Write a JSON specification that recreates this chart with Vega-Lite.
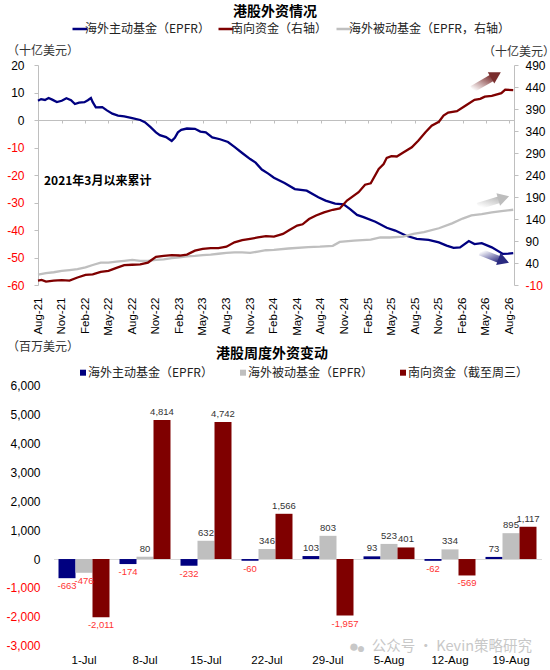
{"$schema":"https://vega.github.io/schema/vega-lite/v6.json","padding":{"left":5,"top":5,"right":0,"bottom":0},"background":"white","bounds":"flush","spacing":100.7,"resolve":{"scale":{"color":"independent"},"legend":{"color":"independent"}},"config":{"view":{"stroke":null},"font":"Liberation Sans","title":{"font":"Noto Sans CJK SC","fontWeight":"bold","fontSize":14,"color":"#000"},"legend":{"labelFont":"Noto Sans CJK SC","labelFontSize":12,"labelColor":"#222","padding":0,"labelLimit":300}},
"datasets":{
"blue":[{"d":"2021-08-01","v":7.0},{"d":"2021-08-13","v":7.6},{"d":"2021-08-28","v":7.3},{"d":"2021-09-11","v":8.0},{"d":"2021-09-25","v":7.4},{"d":"2021-10-13","v":6.5},{"d":"2021-11-01","v":7.0},{"d":"2021-11-19","v":7.9},{"d":"2021-12-07","v":7.2},{"d":"2021-12-22","v":5.8},{"d":"2022-01-07","v":6.3},{"d":"2022-01-28","v":6.5},{"d":"2022-02-10","v":7.2},{"d":"2022-02-22","v":8.0},{"d":"2022-03-01","v":6.5},{"d":"2022-03-13","v":4.6},{"d":"2022-04-07","v":4.7},{"d":"2022-04-25","v":3.5},{"d":"2022-05-16","v":2.3},{"d":"2022-06-07","v":1.6},{"d":"2022-07-01","v":1.3},{"d":"2022-08-01","v":0.7},{"d":"2022-09-01","v":0},{"d":"2022-09-19","v":-0.8},{"d":"2022-10-10","v":-2.5},{"d":"2022-11-01","v":-4.5},{"d":"2022-11-16","v":-5.5},{"d":"2022-12-10","v":-6.2},{"d":"2023-01-01","v":-7.6},{"d":"2023-01-13","v":-6.5},{"d":"2023-01-25","v":-4.5},{"d":"2023-02-07","v":-3.6},{"d":"2023-03-01","v":-3.1},{"d":"2023-04-01","v":-3.2},{"d":"2023-04-22","v":-4.2},{"d":"2023-05-13","v":-4.5},{"d":"2023-06-07","v":-6.3},{"d":"2023-07-07","v":-7},{"d":"2023-08-07","v":-8},{"d":"2023-09-01","v":-9.8},{"d":"2023-10-01","v":-12},{"d":"2023-11-01","v":-14.2},{"d":"2023-11-22","v":-15.5},{"d":"2023-12-16","v":-18},{"d":"2024-01-10","v":-19.5},{"d":"2024-02-01","v":-21},{"d":"2024-03-13","v":-22.9},{"d":"2024-04-22","v":-25.1},{"d":"2024-06-07","v":-25.7},{"d":"2024-07-22","v":-28.1},{"d":"2024-08-19","v":-29.3},{"d":"2024-09-25","v":-30.4},{"d":"2024-10-28","v":-30.7},{"d":"2024-11-22","v":-32.4},{"d":"2024-12-19","v":-34.5},{"d":"2025-01-13","v":-35.3},{"d":"2025-02-28","v":-37},{"d":"2025-04-13","v":-39.2},{"d":"2025-05-16","v":-40.2},{"d":"2025-06-28","v":-42.1},{"d":"2025-08-07","v":-43.2},{"d":"2025-09-22","v":-43.6},{"d":"2025-11-01","v":-44.5},{"d":"2025-12-01","v":-45.7},{"d":"2025-12-28","v":-46.5},{"d":"2026-01-22","v":-46.3},{"d":"2026-02-25","v":-44},{"d":"2026-03-19","v":-45.1},{"d":"2026-04-16","v":-44.8},{"d":"2026-05-25","v":-46.3},{"d":"2026-07-07","v":-48.7},{"d":"2026-07-28","v":-48.6},{"d":"2026-08-16","v":-48.4}],
"red":[{"d":"2021-08-01","v":0},{"d":"2021-08-15","v":1.4},{"d":"2021-09-01","v":-2.4},{"d":"2021-10-01","v":0},{"d":"2021-11-01","v":1},{"d":"2021-12-01","v":0},{"d":"2022-01-01","v":7},{"d":"2022-02-01","v":13},{"d":"2022-03-01","v":14},{"d":"2022-04-01","v":20},{"d":"2022-05-01","v":22},{"d":"2022-06-01","v":29},{"d":"2022-07-01","v":35},{"d":"2022-08-01","v":36},{"d":"2022-09-01","v":37},{"d":"2022-10-01","v":41},{"d":"2022-11-01","v":54},{"d":"2022-12-01","v":56},{"d":"2023-01-01","v":58},{"d":"2023-02-01","v":57},{"d":"2023-03-01","v":59},{"d":"2023-04-01","v":68},{"d":"2023-05-01","v":72},{"d":"2023-06-01","v":74},{"d":"2023-07-01","v":74},{"d":"2023-08-01","v":77},{"d":"2023-09-01","v":87},{"d":"2023-10-01","v":92},{"d":"2023-11-01","v":95},{"d":"2023-12-01","v":98},{"d":"2024-01-01","v":101},{"d":"2024-02-01","v":100},{"d":"2024-03-07","v":106},{"d":"2024-04-01","v":115},{"d":"2024-05-01","v":125},{"d":"2024-05-22","v":128},{"d":"2024-06-16","v":140},{"d":"2024-07-13","v":148},{"d":"2024-08-13","v":155},{"d":"2024-09-16","v":161},{"d":"2024-10-13","v":164},{"d":"2024-11-10","v":182},{"d":"2024-12-25","v":201},{"d":"2025-01-19","v":218},{"d":"2025-02-10","v":221},{"d":"2025-03-13","v":254},{"d":"2025-04-01","v":265},{"d":"2025-04-13","v":279},{"d":"2025-05-01","v":283},{"d":"2025-05-22","v":282},{"d":"2025-06-16","v":291},{"d":"2025-07-19","v":303},{"d":"2025-08-13","v":318},{"d":"2025-09-10","v":337},{"d":"2025-10-04","v":352},{"d":"2025-11-01","v":361},{"d":"2025-11-19","v":375},{"d":"2025-12-07","v":382},{"d":"2026-01-10","v":385},{"d":"2026-02-13","v":398},{"d":"2026-03-19","v":411},{"d":"2026-04-10","v":413},{"d":"2026-04-28","v":418},{"d":"2026-05-25","v":420},{"d":"2026-07-01","v":426},{"d":"2026-07-16","v":434},{"d":"2026-08-16","v":433}],
"grey":[{"d":"2021-08-01","v":13.5},{"d":"2021-09-01","v":17},{"d":"2021-10-01","v":19},{"d":"2021-11-01","v":22},{"d":"2021-12-01","v":24},{"d":"2022-01-01","v":26},{"d":"2022-02-01","v":30},{"d":"2022-03-01","v":35.5},{"d":"2022-04-01","v":41},{"d":"2022-05-01","v":41},{"d":"2022-06-01","v":43},{"d":"2022-07-01","v":45},{"d":"2022-08-01","v":47},{"d":"2022-09-01","v":45},{"d":"2022-10-01","v":45},{"d":"2022-11-01","v":47},{"d":"2022-12-01","v":48},{"d":"2023-01-01","v":51},{"d":"2023-02-01","v":53},{"d":"2023-03-01","v":55},{"d":"2023-04-01","v":56},{"d":"2023-05-01","v":58},{"d":"2023-06-01","v":59},{"d":"2023-07-01","v":61},{"d":"2023-08-01","v":63},{"d":"2023-09-01","v":64},{"d":"2023-10-01","v":64},{"d":"2023-11-01","v":63},{"d":"2023-12-01","v":66},{"d":"2024-01-01","v":69},{"d":"2024-02-01","v":70},{"d":"2024-03-28","v":73},{"d":"2024-06-13","v":76},{"d":"2024-07-28","v":77},{"d":"2024-09-16","v":79},{"d":"2024-10-13","v":88},{"d":"2024-12-07","v":91},{"d":"2025-02-10","v":93},{"d":"2025-03-19","v":98},{"d":"2025-04-25","v":98},{"d":"2025-06-16","v":100},{"d":"2025-07-25","v":106},{"d":"2025-09-04","v":110},{"d":"2025-11-01","v":119},{"d":"2025-12-22","v":130},{"d":"2026-02-01","v":141},{"d":"2026-03-07","v":148},{"d":"2026-04-16","v":151},{"d":"2026-05-25","v":155},{"d":"2026-07-01","v":158},{"d":"2026-08-16","v":161}],
"weekly":[{"w":"1-Jul","s":"海外主动基金（EPFR）","v":-663},{"w":"1-Jul","s":"海外被动基金（EPFR）","v":-476},{"w":"1-Jul","s":"南向资金（截至周三）","v":-2011},{"w":"8-Jul","s":"海外主动基金（EPFR）","v":-174},{"w":"8-Jul","s":"海外被动基金（EPFR）","v":80},{"w":"8-Jul","s":"南向资金（截至周三）","v":4814},{"w":"15-Jul","s":"海外主动基金（EPFR）","v":-232},{"w":"15-Jul","s":"海外被动基金（EPFR）","v":632},{"w":"15-Jul","s":"南向资金（截至周三）","v":4742},{"w":"22-Jul","s":"海外主动基金（EPFR）","v":-60},{"w":"22-Jul","s":"海外被动基金（EPFR）","v":346},{"w":"22-Jul","s":"南向资金（截至周三）","v":1566},{"w":"29-Jul","s":"海外主动基金（EPFR）","v":103},{"w":"29-Jul","s":"海外被动基金（EPFR）","v":803},{"w":"29-Jul","s":"南向资金（截至周三）","v":-1957},{"w":"5-Aug","s":"海外主动基金（EPFR）","v":93},{"w":"5-Aug","s":"海外被动基金（EPFR）","v":523},{"w":"5-Aug","s":"南向资金（截至周三）","v":401},{"w":"12-Aug","s":"海外主动基金（EPFR）","v":-62},{"w":"12-Aug","s":"海外被动基金（EPFR）","v":334},{"w":"12-Aug","s":"南向资金（截至周三）","v":-569},{"w":"19-Aug","s":"海外主动基金（EPFR）","v":73},{"w":"19-Aug","s":"海外被动基金（EPFR）","v":895},{"w":"19-Aug","s":"南向资金（截至周三）","v":1117}]
},
"vconcat":[
{"width":476,"height":220,"title":{"text":"港股外资情况","anchor":"middle","offset":1,"dx":-1},
"encoding":{"x":{"field":"d","type":"temporal","scale":{"type":"utc","domain":[{"year":2021,"month":"aug","date":1,"utc":true},{"year":2026,"month":"aug","date":19,"utc":true}]},"title":null,"axis":{"orient":"bottom","offset":-165,"labelExpr":"utcFormat(datum.value,'%b-%y')","labelOverlap":false,"labelAngle":-90,"labelFontSize":11.5,"labelColor":"#000","labelPadding":174,"tickSize":3,"tickColor":"#bfbfbf","domainColor":"#bfbfbf","grid":false,"tickCount":40,"values":[{"year":2021,"month":"aug","date":1,"utc":true},{"year":2021,"month":"nov","date":1,"utc":true},{"year":2022,"month":"feb","date":1,"utc":true},{"year":2022,"month":"may","date":1,"utc":true},{"year":2022,"month":"aug","date":1,"utc":true},{"year":2022,"month":"nov","date":1,"utc":true},{"year":2023,"month":"feb","date":1,"utc":true},{"year":2023,"month":"may","date":1,"utc":true},{"year":2023,"month":"aug","date":1,"utc":true},{"year":2023,"month":"nov","date":1,"utc":true},{"year":2024,"month":"feb","date":1,"utc":true},{"year":2024,"month":"may","date":1,"utc":true},{"year":2024,"month":"aug","date":1,"utc":true},{"year":2024,"month":"nov","date":1,"utc":true},{"year":2025,"month":"feb","date":1,"utc":true},{"year":2025,"month":"may","date":1,"utc":true},{"year":2025,"month":"aug","date":1,"utc":true},{"year":2025,"month":"nov","date":1,"utc":true},{"year":2026,"month":"feb","date":1,"utc":true},{"year":2026,"month":"may","date":1,"utc":true},{"year":2026,"month":"aug","date":1,"utc":true}]}}},
"resolve":{"scale":{"y":"independent"}},
"layer":[
{"layer":[
{"data":{"name":"blue"},"mark":{"type":"line","strokeWidth":2.3,"clip":false},"encoding":{"y":{"field":"v","type":"quantitative","scale":{"domain":[-60,20],"nice":false},"title":"（十亿美元）","axis":{"orient":"left","values":[20,10,0,-10,-20,-30,-40,-50,-60],"tickCount":40,"labelOverlap":false,"grid":false,"domainColor":"#bfbfbf","tickColor":"#bfbfbf","tickSize":4,"labelPadding":10,"labelFontSize":12,"labelColor":{"condition":{"test":"datum.value<0","value":"#ff0000"},"value":"#000"},"labelExpr":"''+datum.value","titleFont":"Noto Sans CJK SC","titleFontSize":12,"titleFontWeight":"normal","titleColor":"#333","titleAngle":0,"titleAlign":"left","titleBaseline":"middle","titleX":-31.5,"titleY":-15}},"color":{"datum":"海外主动基金（EPFR）","type":"nominal","scale":{"domain":["海外主动基金（EPFR）","南向资金（右轴）","海外被动基金（EPFR，右轴）"],"range":["#000080","#7f0000","#bfbfbf"]},"legend":{"title":null,"orient":"none","legendX":33,"legendY":-45,"direction":"horizontal","columns":3,"columnPadding":3,"symbolType":"stroke","symbolSize":225,"symbolStrokeWidth":2.5,"labelOffset":-4,"labelExpr":"datum.label=='海外主动基金（EPFR）'?datum.label+'      ':datum.label"}}}},
{"data":{"values":[{"d":"2021-09-01","v":-22,"t":"2021年3月以来累计"}]},"mark":{"type":"text","align":"left","baseline":"middle","font":"Noto Sans CJK SC","fontWeight":"bold","fontSize":12,"color":"#000","dx":-2},"encoding":{"y":{"field":"v","type":"quantitative"},"text":{"field":"t"}}}
]},
{"layer":[
{"data":{"name":"grey"},"mark":{"type":"line","strokeWidth":2.3},"encoding":{"y":{"field":"v","type":"quantitative","scale":{"domain":[-10,490],"nice":false},"title":"（十亿美元）","axis":{"orient":"right","values":[490,440,390,340,290,240,190,140,90,40,-10],"tickCount":40,"labelOverlap":false,"grid":false,"domainColor":"#bfbfbf","tickColor":"#bfbfbf","tickSize":4,"labelPadding":7,"labelFontSize":12,"labelColor":{"condition":{"test":"datum.value<0","value":"#ff0000"},"value":"#000"},"labelExpr":"''+datum.value","titleFont":"Noto Sans CJK SC","titleFontSize":12,"titleFontWeight":"normal","titleColor":"#333","titleAngle":0,"titleAlign":"left","titleBaseline":"middle","titleX":-31.5,"titleY":-14}},"color":{"datum":"海外被动基金（EPFR，右轴）","type":"nominal"}}},
{"data":{"name":"red"},"mark":{"type":"line","strokeWidth":2.3},"encoding":{"y":{"field":"v","type":"quantitative"},"color":{"datum":"南向资金（右轴）","type":"nominal"}}},
{"data":{"values":[{"d":"2026-03-10","v":435},{"d":"2026-06-01","v":463}]},"mark":{"type":"line","strokeWidth":7,"strokeCap":"butt","stroke":{"gradient":"linear","x1":0,"y1":1,"x2":1,"y2":0,"stops":[{"offset":0,"color":"#ffffff"},{"offset":1,"color":"#7a2e2e"}]}},"encoding":{"y":{"field":"v","type":"quantitative"}}},
{"data":{"values":[{"d":"2026-06-10","v":467}]},"mark":{"type":"point","shape":"triangle-up","filled":true,"size":170,"opacity":1,"angle":60,"color":"#7a2e2e"},"encoding":{"y":{"field":"v","type":"quantitative"}}},
{"data":{"values":[{"d":"2026-04-01","v":169},{"d":"2026-07-05","v":186}]},"mark":{"type":"line","strokeWidth":7,"strokeCap":"butt","stroke":{"gradient":"linear","x1":0,"y1":1,"x2":1,"y2":0,"stops":[{"offset":0,"color":"#ffffff"},{"offset":1,"color":"#bdbdbd"}]}},"encoding":{"y":{"field":"v","type":"quantitative"}}},
{"data":{"values":[{"d":"2026-07-10","v":188}]},"mark":{"type":"point","shape":"triangle-up","filled":true,"size":170,"opacity":1,"angle":74,"color":"#bdbdbd"},"encoding":{"y":{"field":"v","type":"quantitative"}}},
{"data":{"values":[{"d":"2026-04-10","v":65},{"d":"2026-07-05","v":45}]},"mark":{"type":"line","strokeWidth":7,"strokeCap":"butt","stroke":{"gradient":"linear","x1":0,"y1":0,"x2":1,"y2":1,"stops":[{"offset":0,"color":"#ffffff"},{"offset":1,"color":"#2a2a80"}]}},"encoding":{"y":{"field":"v","type":"quantitative"}}},
{"data":{"values":[{"d":"2026-07-10","v":45}]},"mark":{"type":"point","shape":"triangle-up","filled":true,"size":170,"opacity":1,"angle":110,"color":"#2a2a80"},"encoding":{"y":{"field":"v","type":"quantitative"}}}
]}
]},
{"width":504,"height":260,"title":{"text":"港股周度外资变动","anchor":"middle","offset":-20,"dx":-18},
"encoding":{"x":{"field":"w","type":"nominal","sort":["1-Jul","8-Jul","15-Jul","22-Jul","29-Jul","5-Aug","12-Aug","19-Aug"],"scale":{"range":[15.5,503.5],"paddingInner":0.164,"paddingOuter":0.082},"title":null,"axis":{"orient":"bottom","offset":-86.7,"labelAngle":0,"labelFontSize":11.5,"labelColor":"#000","labelPadding":95,"labelOverlap":false,"ticks":false,"domainColor":"#d9d9d9","grid":false}},
"y":{"field":"v","type":"quantitative","scale":{"domain":[-3000,6000],"nice":false},"title":"（百万美元）","axis":{"orient":"left","values":[6000,5000,4000,3000,2000,1000,0,-1000,-2000,-3000],"tickCount":40,"labelOverlap":false,"grid":false,"domain":false,"ticks":false,"labelPadding":-2,"labelFontSize":12,"labelColor":{"condition":{"test":"datum.value<0","value":"#ff0000"},"value":"#000"},"labelExpr":"(datum.value<0?'-':'')+format(abs(datum.value),',')","titleFont":"Noto Sans CJK SC","titleFontSize":12,"titleFontWeight":"normal","titleColor":"#333","titleAngle":0,"titleAlign":"left","titleBaseline":"middle","titleX":-31.5,"titleY":-39}}},
"layer":[
{"data":{"name":"weekly"},"mark":{"type":"bar"},"encoding":{"xOffset":{"field":"s","type":"nominal","sort":["海外主动基金（EPFR）","海外被动基金（EPFR）","南向资金（截至周三）"]},"color":{"field":"s","type":"nominal","scale":{"domain":["海外主动基金（EPFR）","海外被动基金（EPFR）","南向资金（截至周三）"],"range":["#000080","#bfbfbf","#7f0000"]},"legend":{"title":null,"orient":"none","legendX":39,"legendY":-19,"direction":"horizontal","columns":3,"columnPadding":24,"symbolType":"square","symbolSize":36,"labelOffset":-1}}}},
{"data":{"name":"weekly"},"transform":[{"filter":"datum.v>=0"}],"mark":{"type":"text","baseline":"bottom","dy":-3,"fontSize":9.5,"color":"#333"},"encoding":{"xOffset":{"field":"s","type":"nominal","sort":["海外主动基金（EPFR）","海外被动基金（EPFR）","南向资金（截至周三）"]},"text":{"field":"v","type":"quantitative","format":","}}},
{"data":{"name":"weekly"},"transform":[{"filter":"datum.v<0"},{"calculate":"'-'+format(-datum.v,',')","as":"lab"}],"mark":{"type":"text","baseline":"top","dy":3,"fontSize":9.5,"color":"#ff3333"},"encoding":{"xOffset":{"field":"s","type":"nominal","sort":["海外主动基金（EPFR）","海外被动基金（EPFR）","南向资金（截至周三）"]},"text":{"field":"lab"}}},
{"data":{"values":[{"w":"19-Aug","v":-3030,"t":"公众号 · Kevin策略研究"}]},"mark":{"type":"text","align":"right","baseline":"middle","dx":21,"font":"Noto Sans CJK SC","fontSize":14.5,"color":"#c8c8c8"},"encoding":{"text":{"field":"t"}}},
{"data":{"values":[{"w":"5-Aug","v":-3030,"t":"●"}]},"mark":{"type":"text","align":"center","baseline":"middle","dx":-35,"fontSize":17,"color":"#c8c8c8"},"encoding":{"text":{"field":"t"}}},
{"data":{"values":[{"w":"5-Aug","v":-3120,"t":"●"}]},"mark":{"type":"text","align":"center","baseline":"middle","dx":-28,"fontSize":14,"color":"#c8c8c8"},"encoding":{"text":{"field":"t"}}}
]}
]}
